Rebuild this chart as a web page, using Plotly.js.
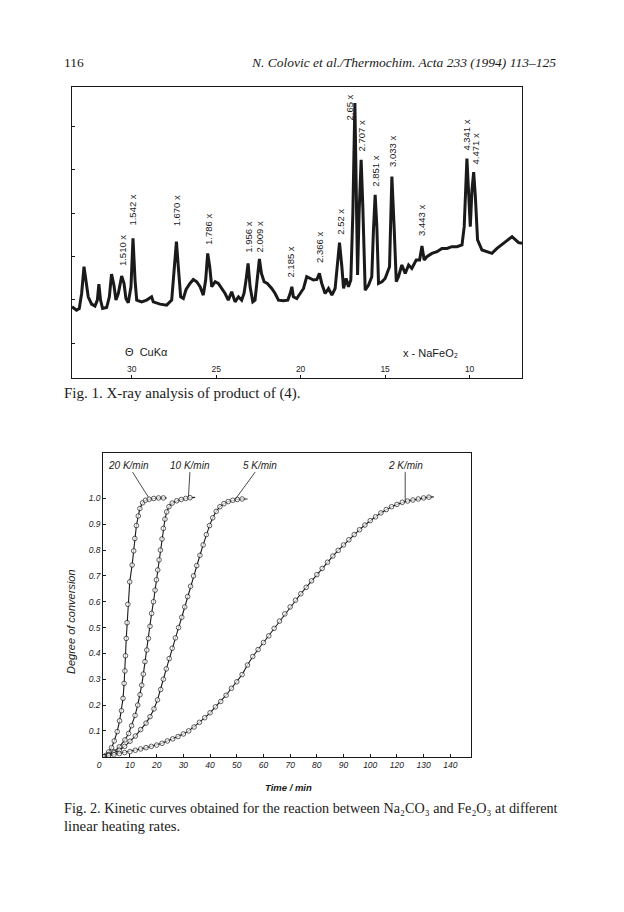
<!DOCTYPE html>
<html>
<head>
<meta charset="utf-8">
<script src="https://cdn.plot.ly/plotly-3.0.1.min.js"></script>
<style>
html,body{margin:0;padding:0;background:#fff;}
#chart{width:624px;height:912px;}
</style>
</head>
<body>
<div id="chart"></div>
<script>
// ---------- Fig. 1: X-ray diffractogram (2θ, CuKα) ----------
const xrdTwoTheta = [33.53,33.26,33.10,32.96,32.82,32.71,32.57,32.37,32.17,32.03,
31.94,31.84,31.72,31.48,31.32,31.19,31.05,30.93,30.79,30.59,
30.45,30.34,30.20,30.04,29.92,29.80,29.70,29.41,29.11,28.82,
28.72,28.32,27.93,27.63,27.49,27.35,27.24,27.10,26.94,26.78,
26.55,26.35,26.15,25.95,25.76,25.62,25.50,25.38,25.26,25.06,
24.87,24.67,24.47,24.28,24.08,23.88,23.68,23.49,23.35,23.23,
23.11,22.99,22.83,22.70,22.56,22.44,22.32,22.16,21.97,21.71,
21.51,21.31,21.02,20.76,20.62,20.52,20.43,20.23,20.03,19.83,
19.64,19.44,19.24,19.04,18.89,18.75,18.55,18.35,18.15,17.96,
17.82,17.70,17.56,17.46,17.31,17.17,17.03,16.91,16.79,16.71,
16.63,16.54,16.42,16.32,16.18,15.98,15.79,15.69,15.59,15.49,
15.39,15.19,15.00,14.74,14.60,14.46,14.34,14.21,14.01,13.81,
13.61,13.42,13.16,12.96,12.82,12.69,12.53,12.23,11.93,11.64,
11.34,11.05,10.75,10.45,10.32,10.16,10.06,9.96,9.86,9.76,
9.66,9.53,9.27,8.97,8.68,8.38,8.09,7.79,7.49,7.30,
7.10,6.90];
const xrdIntensity = [71.0,67.7,69.3,84.3,111.0,97.7,81.0,73.7,71.7,77.7,
93.7,77.7,69.3,70.3,81.0,103.7,92.7,77.7,84.3,101.7,
94.3,79.3,75.0,91.0,139.3,97.7,77.7,76.0,77.7,81.0,
76.0,73.7,72.7,77.7,111.0,136.0,111.0,81.0,79.3,88.3,
94.3,98.3,96.0,91.0,82.7,97.7,124.3,111.0,91.0,96.0,
94.3,89.3,84.3,77.7,86.0,76.0,81.0,77.7,84.3,97.7,
114.3,91.0,76.0,77.7,104.3,118.7,104.3,96.0,94.3,89.3,
84.3,77.7,77.0,77.7,84.3,91.0,81.0,79.3,84.3,89.3,
101.0,99.3,97.7,98.3,104.3,94.3,84.3,89.3,82.7,89.3,
111.0,135.0,111.0,89.3,99.3,91.0,97.7,164.3,274.3,197.7,
102.7,164.3,217.7,171.0,87.7,92.7,101.0,147.7,182.7,151.0,
94.3,96.0,99.3,111.0,201.0,147.7,96.0,101.0,112.7,104.3,
112.7,109.3,117.7,117.7,131.7,117.7,121.0,124.3,126.0,129.3,
129.3,131.0,131.0,132.7,151.0,219.0,184.3,151.0,187.7,205.3,
181.0,137.7,127.7,126.0,124.3,129.3,132.7,137.0,141.0,137.7,
135.0,134.3];
const xrdTicks = [30,25,20,15,10];
// peak labels (d-spacings, NaFeO2) and where they sit
const peakLabels = ["1.510 x","1.542 x","1.670 x","1.786 x","1.956 x","2.009 x","2.185 x","2.366 x","2.52 x","2.65 x","2.707 x","2.851 x","3.033 x","3.443 x","4.341 x","4.471 x"];
const peakLabelTheta = [30.55,29.94,27.33,25.42,23.09,22.46,20.58,18.90,17.66,17.11,16.38,15.59,14.56,12.82,10.16,9.66];
const peakLabelLevel = [127.0,167.7,167.0,147.7,140.3,140.3,116.0,130.0,156.0,270.3,241.7,206.0,226.0,157.7,242.7,228.3];

// ---------- Fig. 2: kinetic curves ----------
const rates = ["20 K/min","10 K/min","5 K/min","2 K/min"];
const time20 = [0.3,1.0,2.0,3.1,4.1,5.2,6.1,6.8,7.4,7.8,8.1,8.3,8.6,8.9,9.2,9.9,10.8,11.4,11.8,12.4,13.1,13.7,14.7,15.8,17.2,18.9,20.7,22.5,23.8];
const alpha20 = [0.0,0.005,0.018,0.035,0.061,0.097,0.139,0.178,0.226,0.284,0.332,0.391,0.458,0.519,0.59,0.677,0.742,0.797,0.845,0.895,0.932,0.961,0.983,0.993,0.997,1.0,1.002,1.002,1.002];
const time10 = [0.5,2,4,6,8.1,9.5,10.6,11.9,12.9,13.75,14.4,15.0,15.6,16.3,16.9,17.5,18.1,18.8,19.4,19.9,20.4,20.9,21.4,22.0,22.5,23.1,23.75,24.6,25.8,27.5,29.2,30.9,32.5,34.4];
const alpha10 = [0,0.008,0.02,0.038,0.065,0.09,0.12,0.16,0.2,0.24,0.277,0.32,0.368,0.413,0.458,0.505,0.555,0.6,0.645,0.685,0.723,0.762,0.8,0.843,0.884,0.92,0.948,0.968,0.982,0.991,0.996,1.0,1.003,1.004];
const time5 = [0.5,2,4,6,8,10,12,14,16,17.5,19,20.3,21.5,22.5,23.6,24.7,25.8,27,28.2,29.4,30.5,31.6,32.7,33.8,35,36.2,37.4,38.6,39.8,41,42.3,43.7,45.2,46.8,48.5,50.2,52,54];
const alpha5 = [0,0.006,0.015,0.025,0.04,0.06,0.08,0.105,0.13,0.155,0.185,0.22,0.26,0.30,0.34,0.38,0.42,0.46,0.50,0.54,0.58,0.62,0.66,0.70,0.74,0.78,0.82,0.86,0.895,0.925,0.95,0.968,0.98,0.988,0.993,0.996,0.998,0.998];
const time2 = [0,2,4,6,8,10,12,14,16,18,20,22,24,26,28,30,32,34,36,38,40,42,44,46,48,50,52,54,56,58,60,62,64,66,68,70,72,74,76,78,80,82,84,86,88,90,92,94,96,98,100,102,104,106,108,110,112,114,116,118,120,122,123.8];
const alpha2 = [0.000,0.004,0.008,0.012,0.016,0.020,0.025,0.030,0.035,0.040,0.045,0.052,0.061,0.069,0.078,0.088,0.100,0.115,0.133,0.151,0.170,0.193,0.214,0.238,0.265,0.290,0.318,0.355,0.388,0.415,0.442,0.468,0.497,0.525,0.553,0.580,0.606,0.631,0.656,0.681,0.705,0.729,0.753,0.777,0.799,0.820,0.840,0.860,0.879,0.897,0.914,0.929,0.944,0.957,0.968,0.977,0.985,0.990,0.994,0.998,1.002,1.005,1.006];
// label positions and leader targets for the rate labels
const rateLabelTime = [9.3,32.6,58.8,113.1];
const rateLabelAlpha = [1.129,1.129,1.129,1.129];
const rateLeaderTime = [16.9,31.9,49.4,113.1];
const rateLeaderAlpha = [1.005,1.006,0.996,0.99];
const timeTickVals = [0,10,20,30,40,50,60,70,80,90,100,110,120,130];
const timeTickText = ["0\u2002\u2002","10","20","30","40","50","60","70","80","90","100","120","130","140"];
const alphaTickVals = [0.1,0.2,0.3,0.4,0.5,0.6,0.7,0.8,0.9,1.0];
const alphaTickText = ["0.1","0.2","0.3","0.4","0.5","0.6","0.7","0.8","0.9","1.0"];

// ---------- build ----------
const W = 624, H = 912;
const px = v => v / W, py = v => 1 - v / H;
const INK = '#1a1a1a';
const sans = 'Liberation Sans, DejaVu Sans, Arial, sans-serif';
const serif = 'Liberation Serif, DejaVu Serif, Times New Roman, serif';

const kin = [[time20,alpha20],[time10,alpha10],[time5,alpha5],[time2,alpha2]];
const traces = [{
  x: xrdTwoTheta, y: xrdIntensity, xaxis:'x', yaxis:'y', mode:'lines',
  line:{color:INK, width:3}, hoverinfo:'skip'
}];
kin.forEach(([t,a], i) => {
  traces.push({
    x:t, y:a, xaxis:'x2', yaxis:'y2', mode:'lines+markers', name:rates[i],
    line:{color:INK, width:1.1},
    marker:{symbol:'circle', size:t.map((_,k)=>k===t.length-1?0:4.6), color:'#ffffff', line:{width:1, color:INK}},
    hoverinfo:'skip'
  });
});

const ann = [];
const note = o => ann.push(Object.assign({showarrow:false, xanchor:'center', yanchor:'middle'}, o));
// page header
note({text:'116', xref:'paper', yref:'paper', x:px(62), y:py(62), xanchor:'left', font:{family:serif, size:13.5, color:INK}});
note({text:'N. Colovic et al./Thermochim. Acta 233 (1994) 113\u2013125', xref:'paper', yref:'paper', x:px(558), y:py(62), xanchor:'right', font:{family:serif, size:13.5, color:INK, style:'italic'}});
// captions
note({text:'Fig. 1. X-ray analysis of product of (4).', xref:'paper', yref:'paper', x:px(62), y:py(393), xanchor:'left', font:{family:serif, size:15, color:INK}});
note({text:'Fig. 2. Kinetic curves obtained for the reaction between Na\u2082CO\u2083 and Fe\u2082O\u2083 at different', xref:'paper', yref:'paper', x:px(62), y:py(808), xanchor:'left', font:{family:serif, size:14.2, color:INK}});
note({text:'linear heating rates.', xref:'paper', yref:'paper', x:px(62), y:py(826), xanchor:'left', font:{family:serif, size:14.8, color:INK}});
// fig 1 peak labels
peakLabels.forEach((s,i)=>note({text:s, xref:'x', yref:'y', x:peakLabelTheta[i], y:peakLabelLevel[i], textangle:-90, font:{family:sans, size:9.5, color:INK}}));
note({text:'\u0398  CuK\u03b1', xref:'x', yref:'y', x:29.15, y:26, font:{family:sans, size:11, color:INK}});
note({text:'x - NaFeO\u2082', xref:'x', yref:'y', x:12.29, y:24.5, font:{family:sans, size:11, color:INK}});
// fig 2 rate labels with leaders
rates.forEach((s,i)=>ann.push({text:s, xref:'x2', yref:'y2', axref:'x2', ayref:'y2', x:rateLeaderTime[i], y:rateLeaderAlpha[i], ax:rateLabelTime[i], ay:rateLabelAlpha[i], showarrow:true, arrowhead:0, arrowwidth:0.8, arrowcolor:INK, standoff:0, font:{family:sans, size:10, color:INK, style:'italic'}}));
// fig 2 axis titles
note({text:'Degree of conversion', xref:'paper', yref:'paper', x:px(71), y:py(622), textangle:-90, font:{family:sans, size:11, color:INK, style:'italic'}});
note({text:'Time / min', xref:'paper', yref:'paper', x:px(288), y:py(787), font:{family:sans, size:9.5, color:INK, weight:'bold', style:'italic'}});

const axBase = {showgrid:false, zeroline:false, showline:true, mirror:true, linecolor:INK, linewidth:1, fixedrange:true};
const layout = {
  width:W, height:H, margin:{l:0,r:0,t:0,b:0}, paper_bgcolor:'#ffffff', plot_bgcolor:'rgba(0,0,0,0)', showlegend:false,
  xaxis: Object.assign({}, axBase, {domain:[px(72), px(522)], range:[33.53, 6.90], anchor:'y', tickvals:xrdTicks, ticks:'inside', ticklen:3, tickcolor:INK,
    ticklabelposition:'inside', tickfont:{family:sans, size:8.5, color:INK}}),
  yaxis: Object.assign({}, axBase, {domain:[py(378), py(87)], range:[0, 290.3], anchor:'x', ticks:'inside', ticklen:3, tickcolor:INK, tick0:34.7, dtick:43.3, showticklabels:false}),
  xaxis2: Object.assign({}, axBase, {domain:[px(103.3), px(471)], range:[0, 137.75], anchor:'y2', tickvals:timeTickVals, ticktext:timeTickText, ticks:'inside', ticklen:3, tickcolor:INK,
    tickfont:{family:sans, size:8.5, color:INK, style:'italic'}}),
  yaxis2: Object.assign({}, axBase, {domain:[py(756.7), py(453)], range:[0, 1.176], anchor:'x2', tickvals:alphaTickVals, ticktext:alphaTickText, ticks:'inside', ticklen:3, tickcolor:INK,
    tickfont:{family:sans, size:8.5, color:INK, style:'italic'}}),
  annotations: ann
};
Plotly.newPlot('chart', traces, layout, {staticPlot:true, displayModeBar:false});
</script>
</body>
</html>
